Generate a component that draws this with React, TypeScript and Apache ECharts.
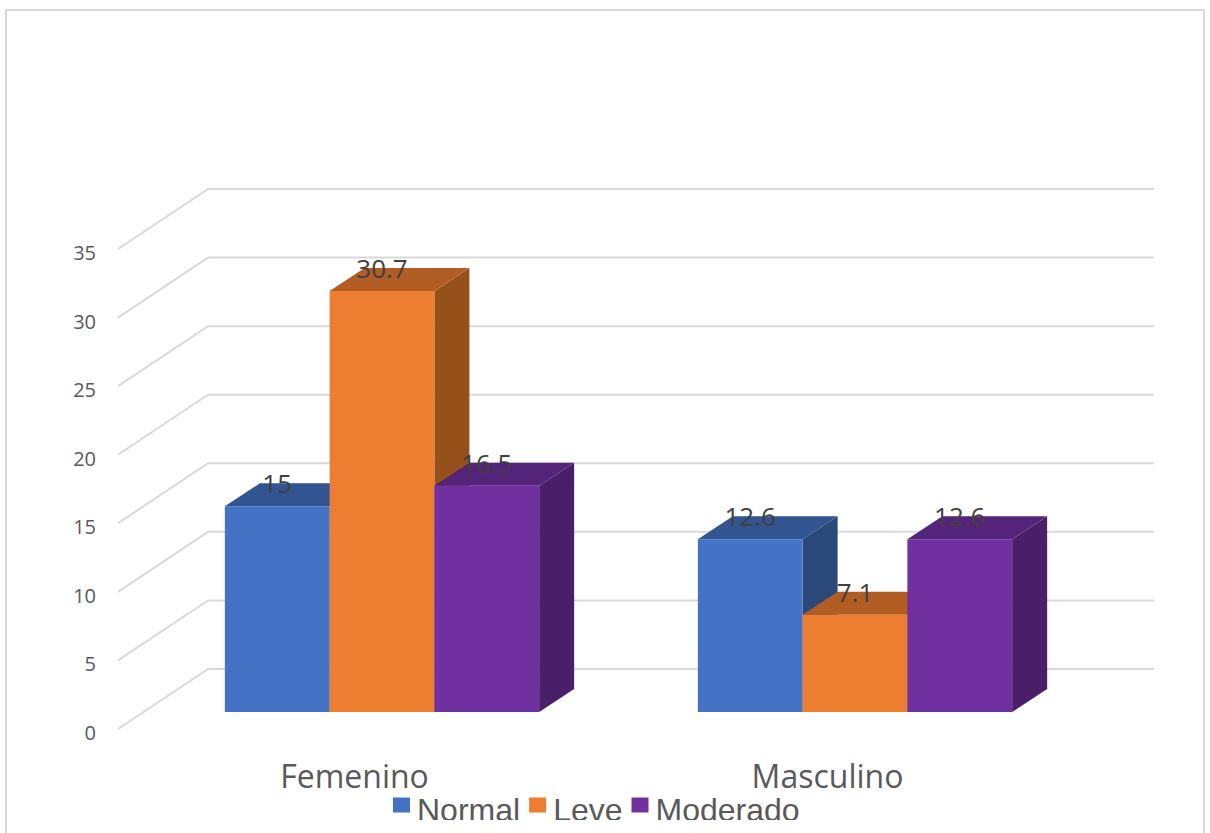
import React, { useEffect, useRef } from "react";
import * as echarts from "echarts";

const categories = ["Femenino", "Masculino"];
const seriesNames = ["Normal", "Leve", "Moderado"];
const normalValues = [15, 12.6];
const leveValues = [30.7, 7.1];
const moderadoValues = [16.5, 12.6];
const gridTicks = [0, 5, 10, 15, 20, 25, 30, 35];

const seriesValues = [normalValues, leveValues, moderadoValues];
const faceColors = ["#4472C4", "#ED7D31", "#7030A0"];
const topColors = ["#325490", "#B15D23", "#54247A"];
const sideColors = ["#2A4878", "#965019", "#481F68"];

const FONT = "'Open Sans', sans-serif";
const LEGEND_FONT = "'Liberation Sans', Arial, sans-serif";
const WALL_DX = 90;
const WALL_DY = -60;
const BAR_DX = 35;
const BAR_DY = -23;
const FLOOR_DX = 27.5;
const FLOOR_DY = -17;
const BAR_BAND_RATIO = 0.2215;

// One extruded column: front face, right side and top, plus its value label.
function columnRenderer(seriesPos: number) {
  return (_params: any, api: any) => {
    const cat = api.value(0);
    const val = api.value(1);
    const band = api.size([1, 0])[0];
    const w = band * BAR_BAND_RATIO;
    const top = api.coord([cat, val]);
    const base = api.coord([cat, 0]);
    const x0 = top[0] + FLOOR_DX + (seriesPos - 1.5) * w;
    const x1 = x0 + w;
    const yTop = top[1] + FLOOR_DY;
    const yBase = base[1] + FLOOR_DY;
    return {
      type: "group",
      children: [
        {
          type: "polygon",
          shape: { points: [[x1, yTop], [x1 + BAR_DX, yTop + BAR_DY], [x1 + BAR_DX, yBase + BAR_DY], [x1, yBase]] },
          style: { fill: sideColors[seriesPos] },
        },
        {
          type: "polygon",
          shape: { points: [[x0, yTop], [x0 + BAR_DX, yTop + BAR_DY], [x1 + BAR_DX, yTop + BAR_DY], [x1, yTop]] },
          style: { fill: topColors[seriesPos] },
        },
        {
          type: "rect",
          shape: { x: x0, y: yTop, width: w, height: yBase - yTop },
          style: { fill: faceColors[seriesPos] },
        },
        {
          type: "text",
          z2: 100,
          style: {
            x: (x0 + x1) / 2,
            y: yTop - 23,
            text: String(val),
            align: "center",
            verticalAlign: "middle",
            fill: "#404040",
            font: `26px ${FONT}`,
          },
        },
      ],
    };
  };
}

// Back wall line and the diagonal running forward to the value axis.
function wallLineRenderer(_params: any, api: any) {
  const p = api.coord([0, api.value(0)]);
  const band = api.size([1, 0])[0];
  const left = p[0] - band / 2;
  const right = left + band * categories.length;
  return {
    type: "polyline",
    shape: { points: [[left, p[1]], [left + WALL_DX, p[1] + WALL_DY], [right + WALL_DX, p[1] + WALL_DY]] },
    style: { stroke: "#D9D9D9", lineWidth: 2, fill: "none" },
  };
}

export default function App() {
  const ref = useRef<HTMLDivElement>(null);

  useEffect(() => {
    document.body.style.margin = "0";
    const chart = echarts.init(ref.current!, undefined, { renderer: "svg" });
    chart.setOption({
      animation: false,
      backgroundColor: "#FFFFFF",
      graphic: [
        {
          type: "rect",
          shape: { x: 6, y: 10, width: 1198, height: 840 },
          style: { fill: "none", stroke: "#D9D9D9", lineWidth: 2 },
          silent: true,
        },
        // The legend row is cut off by the frame's lower edge.
        {
          type: "rect",
          z: 100,
          zlevel: 1,
          shape: { x: 412, y: 820, width: 400, height: 12 },
          style: { fill: "#FFFFFF" },
          silent: true,
        },
      ],
      grid: { left: 118, top: 249, width: 946, height: 480, containLabel: false },
      legend: {
        data: seriesNames,
        left: 393,
        top: 794,
        icon: "rect",
        itemWidth: 17,
        itemHeight: 15,
        itemGap: 9,
        selectedMode: false,
        padding: 0,
        formatter: "{t|{name}}",
        textStyle: {
          rich: {
            t: { color: "#595959", fontFamily: LEGEND_FONT, fontSize: 32, padding: [10, 0, 0, 2] },
          },
        },
      },
      xAxis: {
        type: "category",
        data: categories,
        axisLine: { show: false },
        axisTick: { show: false },
        splitLine: { show: false },
        axisLabel: { color: "#595959", fontFamily: FONT, fontSize: 32, margin: 30 },
      },
      yAxis: {
        type: "value",
        min: 0,
        max: 35,
        interval: 5,
        axisLine: { show: false },
        axisTick: { show: false },
        splitLine: { show: false },
        axisLabel: {
          formatter: "{v|{value}}",
          margin: 22,
          rich: {
            v: { color: "#595959", fontFamily: FONT, fontSize: 20, padding: [7, 0, 0, 0] },
          },
        },
      },
      series: [
        {
          type: "custom",
          name: "grid",
          coordinateSystem: "cartesian2d",
          silent: true,
          z: 1,
          encode: { x: 1, y: 0 },
          data: gridTicks.map((t) => [t, 0]),
          renderItem: wallLineRenderer,
        },
        ...seriesNames.map((name, i) => ({
          type: "custom",
          name,
          coordinateSystem: "cartesian2d",
          z: 2 + i,
          itemStyle: { color: faceColors[i] },
          encode: { x: 0, y: 1 },
          data: seriesValues[i].map((v, c) => [c, v]),
          renderItem: columnRenderer(i),
        })),
      ],
    });
    return () => chart.dispose();
  }, []);

  return <div ref={ref} style={{ width: 1210, height: 833 }} />;
}
